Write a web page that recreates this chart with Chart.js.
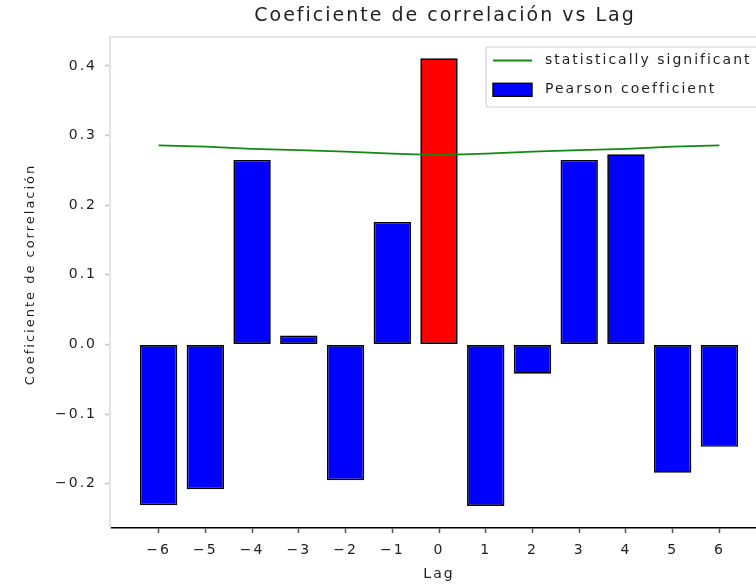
<!DOCTYPE html>
<html>
<head>
<meta charset="utf-8">
<script src="https://cdn.jsdelivr.net/npm/chart.js@4.4.1/dist/chart.umd.min.js"></script>
<style>
  html, body { margin: 0; padding: 0; background: #fff; overflow: hidden; width: 756px; height: 588px; }
  canvas { display: block; }
</style>
</head>
<body>
<canvas id="c" width="880" height="588"></canvas>
<script>
// Lags and the Pearson coefficient at each lag
const lags = [-6, -5, -4, -3, -2, -1, 0, 1, 2, 3, 4, 5, 6];
const pearson = [-0.231, -0.208, 0.265, 0.013, -0.195, 0.176, 0.411, -0.232, -0.042, 0.265, 0.273, -0.184, -0.147];
// Significance threshold at each lag
const significance = [0.286, 0.284, 0.281, 0.279, 0.277, 0.274, 0.272, 0.274, 0.277, 0.279, 0.281, 0.284, 0.286];
const yTicks = [-0.2, -0.1, 0.0, 0.1, 0.2, 0.3, 0.4];
const xLimits = [-7.04, 7.04];
const yLimits = [-0.2635, 0.4415];
const seriesLabels = ['statistically significant', 'Pearson coefficient'];
const titleText = 'Coeficiente de correlación vs Lag';
const xTitle = 'Lag';
const yTitle = 'Coeficiente de correlación';

const FONT = 'DejaVu Sans';
const INK = '#1e1e1e';
const minus = v => (v < 0 ? '\u2212' : '') + Math.abs(v);
const peak = Math.max(...pearson);

// Wider glyph spacing for every text item
const textSpacing = {
  id: 'textSpacing',
  beforeUpdate(chart) { chart.ctx.letterSpacing = '2px'; },
  beforeLayout(chart) { chart.ctx.letterSpacing = '2px'; },
  beforeDraw(chart) { chart.ctx.letterSpacing = '2px'; }
};

// Title centred over the axes box, and the rotated y-axis label
const axesText = {
  id: 'axesText',
  afterDraw(chart) {
    const { ctx, chartArea: a } = chart;
    ctx.save();
    ctx.letterSpacing = '2px';
    ctx.fillStyle = INK;
    ctx.textAlign = 'center';
    ctx.textBaseline = 'middle';
    ctx.font = '19px "' + FONT + '"';
    ctx.fillText(titleText, (a.left + a.right) / 2 + 6, a.top - 21);
    ctx.translate(a.left - 79, (a.top + a.bottom) / 2 - 8);
    ctx.rotate(-Math.PI / 2);
    ctx.font = '13px "' + FONT + '"';
    ctx.fillText(yTitle, 0, 0);
    ctx.restore();
  }
};

// Top and right spines of the axes box
const frame = {
  id: 'frame',
  afterDraw(chart) {
    const { ctx, chartArea: a } = chart;
    ctx.save();
    ctx.strokeStyle = '#e4e4e4';
    ctx.lineWidth = 2;
    ctx.beginPath();
    ctx.moveTo(a.left, a.top);
    ctx.lineTo(a.right, a.top);
    ctx.lineTo(a.right, a.bottom);
    ctx.stroke();
    ctx.restore();
  }
};

// Framed legend in the upper right corner of the axes
const boxLegend = {
  id: 'boxLegend',
  afterDraw(chart) {
    const { ctx, chartArea: a } = chart;
    const w = 275, h = 60;
    const x = a.right - 282, y = a.top + 10;
    ctx.save();
    ctx.letterSpacing = '2px';
    ctx.fillStyle = 'rgba(255,255,255,0.85)';
    ctx.strokeStyle = '#d2d2d2';
    ctx.lineWidth = 1.2;
    ctx.beginPath();
    ctx.roundRect(x, y, w, h, 3);
    ctx.fill();
    ctx.stroke();

    const [lineDs, barDs] = chart.data.datasets;
    const hx0 = x + 7, hx1 = x + 46, tx = x + 59;
    const r1 = y + 13.5, r2 = y + 42.8;

    ctx.strokeStyle = lineDs.borderColor;
    ctx.lineWidth = lineDs.borderWidth;
    ctx.beginPath();
    ctx.moveTo(hx0, r1);
    ctx.lineTo(hx1, r1);
    ctx.stroke();

    ctx.fillStyle = '#0000ff';
    ctx.fillRect(hx0, r2 - 6.5, hx1 - hx0, 13);
    ctx.strokeStyle = '#000';
    ctx.lineWidth = 1.4;
    ctx.strokeRect(hx0, r2 - 6.5, hx1 - hx0, 13);

    ctx.fillStyle = INK;
    ctx.font = '14px "' + FONT + '"';
    ctx.textBaseline = 'middle';
    ctx.textAlign = 'left';
    ctx.fillText(lineDs.label, tx, r1);
    ctx.fillText(barDs.label, tx, r2);
    ctx.restore();
  }
};

new Chart(document.getElementById('c'), {
  type: 'bar',
  data: {
    datasets: [
      {
        type: 'line',
        label: seriesLabels[0],
        data: lags.map((x, i) => ({ x, y: significance[i] })),
        borderColor: '#128a12',
        borderWidth: 1.8,
        pointRadius: 0,
        tension: 0,
        order: 0
      },
      {
        type: 'bar',
        label: seriesLabels[1],
        data: lags.map((x, i) => ({ x, y: pearson[i] })),
        backgroundColor: pearson.map(v => v === peak ? '#ff0000' : '#0000ff'),
        borderColor: '#000',
        borderWidth: 1.7,
        borderSkipped: false,
        barPercentage: 1,
        categoryPercentage: 0.8,
        order: 1
      }
    ]
  },
  options: {
    responsive: false,
    animation: false,
    devicePixelRatio: 1,
    layout: { padding: { left: 20, right: 112, top: 37, bottom: 0 } },
    plugins: {
      legend: { display: false },
      tooltip: { enabled: false },
      title: { display: false }
    },
    scales: {
      x: {
        type: 'linear',
        offset: false,
        min: xLimits[0],
        max: xLimits[1],
        afterBuildTicks: s => { s.ticks = lags.map(v => ({ value: v })); },
        afterFit: s => { s.height = 60; },
        ticks: {
          color: INK,
          font: { family: FONT, size: 14 },
          padding: 9,
          callback: v => minus(v)
        },
        grid: {
          display: true,
          offset: false,
          drawOnChartArea: false,
          tickLength: 5,
          tickColor: '#555',
          tickWidth: 1.5
        },
        border: { display: true, color: '#000', width: 1.6 },
        title: {
          display: true,
          text: xTitle,
          color: INK,
          font: { family: FONT, size: 14 },
          padding: { top: 0, bottom: 5.6 }
        }
      },
      y: {
        type: 'linear',
        min: yLimits[0],
        max: yLimits[1],
        afterBuildTicks: s => { s.ticks = yTicks.map(v => ({ value: v })); },
        afterFit: s => { s.width = 90; },
        ticks: {
          color: INK,
          font: { family: FONT, size: 14 },
          padding: 8,
          callback: v => (v < 0 ? '\u2212' : '') + Math.abs(v).toFixed(1)
        },
        grid: {
          display: true,
          drawOnChartArea: false,
          tickLength: 5,
          tickColor: '#c4c4c4',
          tickWidth: 1.5
        },
        border: { display: true, color: '#e4e4e4', width: 2 },
        title: { display: false }
      }
    }
  },
  plugins: [textSpacing, axesText, frame, boxLegend]
});
</script>
</body>
</html>
